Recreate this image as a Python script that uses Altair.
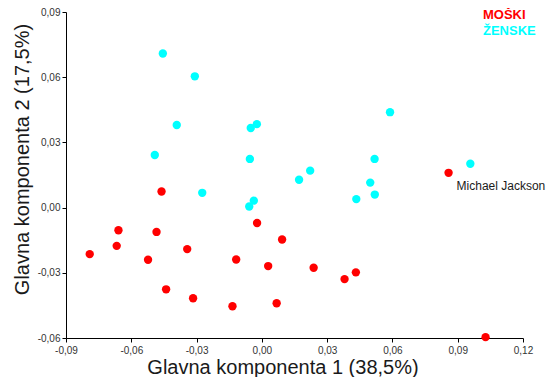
import altair as alt
import pandas as pd

# Data
men_x = [-0.0461, -0.0659, -0.0484, -0.0667, -0.0791, -0.0523, -0.0343, -0.0440, -0.0316, -0.0135,
         -0.0118, -0.0022, 0.0029, 0.0068, 0.0093, 0.0238, 0.0380, 0.0432, 0.0858, 0.1028]
men_y = [0.0074, -0.0104, -0.0112, -0.0176, -0.0214, -0.0240, -0.0191, -0.0376, -0.0417, -0.0454,
         -0.0239, -0.0071, -0.0269, -0.0440, -0.0147, -0.0277, -0.0329, -0.0298, 0.0160, -0.0596]
women_x = [-0.0455, -0.0308, -0.0391, -0.0492, -0.0051, -0.0023, -0.0055, -0.0274, -0.0037, -0.0058,
           0.0589, 0.0518, 0.0222, 0.0171, 0.0498, 0.0519, 0.0434, 0.0958]
women_y = [0.0709, 0.0604, 0.0380, 0.0242, 0.0366, 0.0384, 0.0224, 0.0068, 0.0032, 0.0005,
           0.0439, 0.0224, 0.0170, 0.0128, 0.0115, 0.0060, 0.0039, 0.0202]
groups = ["MOŠKI", "ŽENSKE"]
colors = ["#ff0000", "#00ffff"]
x_ticks = [-0.09, -0.06, -0.03, 0.0, 0.03, 0.06, 0.09, 0.12]
y_ticks = [-0.06, -0.03, 0.0, 0.03, 0.06, 0.09]
annot_label = ["Michael Jackson"]
annot_x = [0.0858]
annot_y = [0.0160]

df = pd.DataFrame({
    "x": men_x + women_x,
    "y": men_y + women_y,
    "spol": [groups[0]] * len(men_x) + [groups[1]] * len(women_x),
})
ann = pd.DataFrame({"x": annot_x, "y": annot_y, "label": annot_label})

FONT = "Liberation Sans"
label_expr = "replace(replace(format(datum.value, '.2f'), '.', ','), '\u2212', '-')"

W, H = 457, 326
PAD_L, PAD_T = 58, 4
SVG_W, SVG_H = 540, 369

xscale = alt.Scale(domain=[-0.09, 0.12], nice=False, zero=False)
yscale = alt.Scale(domain=[-0.06, 0.09], nice=False, zero=False)

points = alt.Chart(df).mark_circle(size=70, opacity=1).encode(
    x=alt.X("x:Q", scale=xscale,
            axis=alt.Axis(values=x_ticks, labelExpr=label_expr, title="Glavna komponenta 1 (38,5%)",
                          titleX=216.5, titleY=35, titleBaseline="alphabetic", titleAlign="center",
                          labelPadding=3)),
    y=alt.Y("y:Q", scale=yscale,
            axis=alt.Axis(values=y_ticks, labelExpr=label_expr, title="Glavna komponenta 2 (17,5%)",
                          titleX=-38, titleY=147, titleBaseline="alphabetic", titleAlign="center",
                          titleAngle=270, labelPadding=2)),
    color=alt.Color("spol:N", scale=alt.Scale(domain=groups, range=colors), legend=None),
)

annot = alt.Chart(ann).mark_text(align="left", baseline="alphabetic", dx=8, dy=17,
                                 font=FONT, fontSize=12, color="#1a1a1a").encode(
    x=alt.X("x:Q", scale=xscale),
    y=alt.Y("y:Q", scale=yscale),
    text="label:N",
)

leg_m = alt.Chart(pd.DataFrame({"t": [groups[0]]})).mark_text(
    align="left", baseline="alphabetic", font=FONT, fontSize=13, fontWeight="bold", color=colors[0]
).encode(x=alt.value(417), y=alt.value(6.5), text="t:N")
leg_z = alt.Chart(pd.DataFrame({"t": [groups[1]]})).mark_text(
    align="left", baseline="alphabetic", font=FONT, fontSize=13, fontWeight="bold", color=colors[1]
).encode(x=alt.value(417), y=alt.value(23), text="t:N")

chart = alt.layer(points, annot, leg_m, leg_z).properties(
    width=W, height=H,
    autosize=alt.AutoSizeParams(type="none"),
    padding={"left": PAD_L, "top": PAD_T, "right": SVG_W - PAD_L - W, "bottom": SVG_H - PAD_T - H},
).configure_view(stroke=None).configure_axis(
    grid=False, domainColor="#000000", tickColor="#000000", tickSize=4,
    labelFont=FONT, labelFontSize=10, labelColor="#333333",
    labelFlush=False, labelOverlap=False,
    titleFont=FONT, titleFontSize=20, titleFontWeight="normal", titleColor="#1a1a1a",
)

chart.save("out.html", embed_options={"renderer": "svg", "actions": False})
